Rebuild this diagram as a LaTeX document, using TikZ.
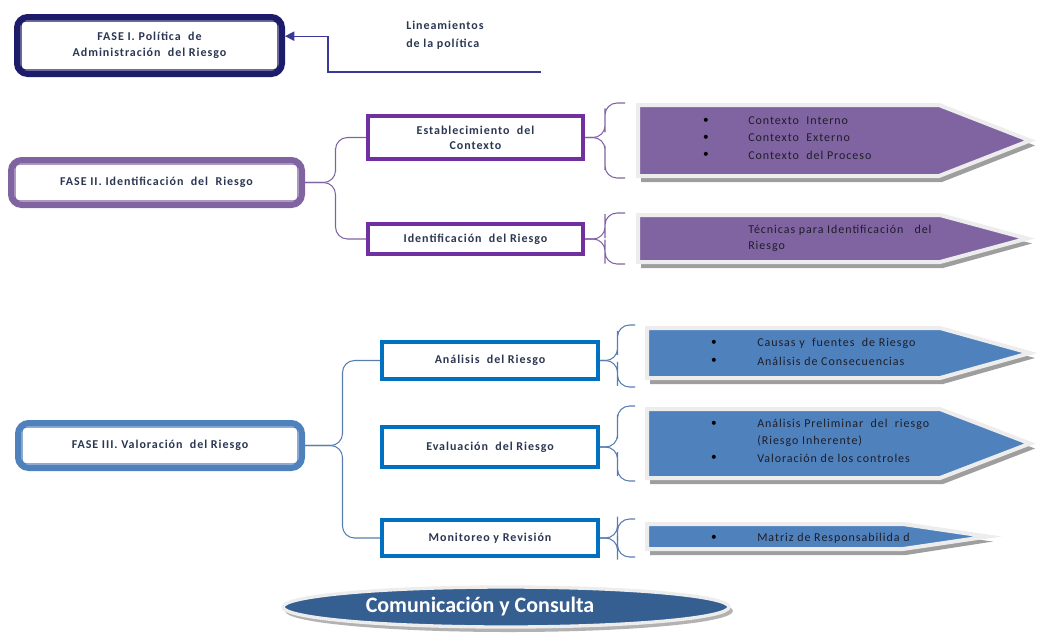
\documentclass[tikz,border=0pt]{standalone}
\usepackage{fontspec}
\setmainfont{Carlito}[LetterSpace=8]
\newfontfamily\plainfont{Carlito}
\usetikzlibrary{calc,arrows.meta,shapes.geometric}
\definecolor{navy}{HTML}{1C1C6B}
\definecolor{navyln}{HTML}{3A3A96}
\definecolor{purpA}{HTML}{8064A2}
\definecolor{purpB}{HTML}{7030A0}
\definecolor{blueA}{HTML}{4F81BD}
\definecolor{blueB}{HTML}{0070C0}
\definecolor{blueBr}{HTML}{5A7DB0}
\definecolor{ellFill}{HTML}{365F91}
\definecolor{txt}{HTML}{2B3652}
\definecolor{lsttxt}{HTML}{1E1E28}
\newcommand\mysig[6]{%
  \fill[black!38] (#2+3,#3+6) -- (#5+3,#3+6) -- (#6+5,{(#3+#4)/2+5}) -- (#5+3,#4+6) -- (#2+3,#4+6) -- cycle;
  \draw[draw=black!7, line width=3pt, fill=#1, line join=miter] (#2,#3) -- (#5,#3) -- (#6,{(#3+#4)/2}) -- (#5,#4) -- (#2,#4) -- cycle;
}
\tikzset{
  fase/.style={draw, line width=4.5pt, rounded corners=8pt, fill=white, inner sep=0pt, align=center,
    font=\fontsize{9}{12}\selectfont\bfseries, text=txt},
  faseinner/.style={line width=1.1pt, rounded corners=3pt},
  subbox/.style={draw, line width=3pt, fill=white, inner sep=0pt, align=center,
    minimum width=215*0.75pt, font=\fontsize{9}{11.3}\selectfont\bfseries, text=txt},
  lst/.style={anchor=west, inner sep=0pt, font=\fontsize{9}{10}\selectfont, text=lsttxt},
  bul/.style={inner sep=0pt, font=\plainfont\fontsize{8.5}{10}\selectfont, text=black},
  brP/.style={draw=purpA, line width=0.8pt, rounded corners=9pt},
  brB/.style={draw=blueBr, line width=0.8pt, rounded corners=9pt},
}
\begin{document}
\begin{tikzpicture}[x=0.75pt,y=-0.75pt]
\useasboundingbox (0,0) rectangle (1046,637);

% ---------- FASE I ----------
\node[fase, draw=navy, minimum width=265*0.75pt, minimum height=57*0.75pt] (f1) at (149.5,45.5)
  {FASE I. Política\ \ de\\Administración\ \ del Riesgo};
\draw[faseinner, navy] ([shift={(7,7)}]f1.north west) rectangle ([shift={(-7,-7)}]f1.south east);
\node[anchor=west, align=left, inner sep=0pt, font=\fontsize{9}{13.5}\selectfont\bfseries, text=txt] (lin) at (406,35)
  {Lineamientos\\de la política};
\coordinate (linend) at (541,72);
\draw[navyln, line width=1pt, -{Triangle[length=7pt,width=7pt]}] (linend) -- ++(-213,0) |- ([yshift=7pt]f1.east);

% ---------- FASE II ----------
\node[fase, draw=purpA, minimum width=291*0.75pt, minimum height=45*0.75pt] (f2) at (156.5,182.5)
  {FASE II. Identificación\ \ del\ \ Riesgo};
\draw[faseinner, purpA] ([shift={(7,7)}]f2.north west) rectangle ([shift={(-7,-7)}]f2.south east);
\node[subbox, draw=purpB, minimum height=43*0.75pt] (est) at (475.5,137.5) {Establecimiento\ \ del\\Contexto};
\node[subbox, draw=purpB, minimum height=30*0.75pt] (idr) at (475.5,239) {Identificación\ \ del Riesgo};
\draw[brP] (f2.east) -| ($(f2.east)!0.5!(est.west)$) |- (est.west);
\draw[brP] (f2.east) -| ($(f2.east)!0.5!(idr.west)$) |- (idr.west);

\mysig{purpA}{638}{105}{176}{939}{1030}
\mysig{purpA}{638}{215}{262}{940}{1027}
\coordinate (p1t) at (625,103);
\coordinate (p1b) at (625,178);
\coordinate (p2t) at (625,213);
\coordinate (p2b) at (625,264);
\draw[brP] (est.east) -| ($(est.east)!0.5!(p1t)$) |- (p1t);
\draw[brP] (est.east) -| ($(est.east)!0.5!(p1b)$) |- (p1b);
\draw[brP] (idr.east) -| ($(idr.east)!0.5!(p2t)$) |- (p2t);
\draw[brP] (idr.east) -| ($(idr.east)!0.5!(p2b)$) |- (p2b);
\node[bul] (b11) at (706,121) {\textbullet};
\node[bul] (b12) at (706,138) {\textbullet};
\node[bul] (b13) at (706,155) {\textbullet};
\node[lst] (t11) at (748,121) {Contexto\ \ Interno};
\node[lst] (t12) at (748,138) {Contexto\ \ Externo};
\node[lst] (t13) at (748,155) {Contexto\ \ del Proceso};
\node[lst] (t21) at (748,230) {Técnicas para Identificación\ \ \ del};
\node[lst] (t22) at (748,246) {Riesgo};

% ---------- FASE III ----------
\node[fase, draw=blueA, minimum width=284*0.75pt, minimum height=45*0.75pt] (f3) at (160,445.5)
  {FASE III. Valoración\ \ del Riesgo};
\draw[faseinner, blueA] ([shift={(7,7)}]f3.north west) rectangle ([shift={(-7,-7)}]f3.south east);
\node[subbox, draw=blueB, minimum width=216*0.75pt, minimum height=37*0.75pt] (ana) at (490,360.5) {Análisis\ \ del Riesgo};
\node[subbox, draw=blueB, minimum width=216*0.75pt, minimum height=40*0.75pt] (eva) at (490,447) {Evaluación\ \ del Riesgo};
\node[subbox, draw=blueB, minimum width=216*0.75pt, minimum height=36*0.75pt] (mon) at (490,538) {Monitoreo y Revisión};
\draw[brB] (f3.east) -| ($(f3.east)!0.5!(ana.west)$) |- (ana.west);
\draw[brB] (f3.east) -| ($(f3.east)!0.5!(mon.west)$) |- (mon.west);

\mysig{blueA}{647}{328}{378}{940}{1030}
\mysig{blueA}{647}{409}{478}{940}{1030}
\mysig{blueA}{647}{524}{549}{903}{988}
\coordinate (q1t) at (635,325);
\coordinate (q1b) at (635,387);
\coordinate (q2t) at (635,406);
\coordinate (q2b) at (635,481);
\coordinate (q3t) at (635,519);
\coordinate (q3b) at (635,557);
\draw[brB] (ana.east) -| ($(ana.east)!0.5!(q1t)$) |- (q1t);
\draw[brB] (ana.east) -| ($(ana.east)!0.5!(q1b)$) |- (q1b);
\draw[brB] (eva.east) -| ($(eva.east)!0.5!(q2t)$) |- (q2t);
\draw[brB] (eva.east) -| ($(eva.east)!0.5!(q2b)$) |- (q2b);
\draw[brB] (mon.east) -| ($(mon.east)!0.5!(q3t)$) |- (q3t);
\draw[brB] (mon.east) -| ($(mon.east)!0.5!(q3b)$) |- (q3b);
\node[bul] (c11) at (714,343) {\textbullet};
\node[bul] (c12) at (714,361) {\textbullet};
\node[lst] (u11) at (757,343) {Causas y\ \ fuentes\ \ de Riesgo};
\node[lst] (u12) at (757,361) {Análisis de Consecuencias};
\node[bul] (c21) at (714,424) {\textbullet};
\node[bul] (c22) at (714,458) {\textbullet};
\node[lst] (u21) at (757,424) {Análisis Preliminar\ \ del\ \ riesgo};
\node[lst] (u22) at (757,441) {(Riesgo Inherente)};
\node[lst] (u23) at (757,458) {Valoración de los controles};
\node[bul] (c31) at (714,538) {\textbullet};
\node[lst] (u31) at (757,538) {Matriz de Responsabilida d};

% ---------- Comunicación ----------
\fill[black!30] (509,611) ellipse [x radius=224, y radius=21];
\node[ellipse, fill=ellFill, draw=black!7, line width=2.5pt, minimum width=446*0.75pt, minimum height=40*0.75pt, inner sep=0pt] (com) at (506,607) {};
\node[inner sep=0pt, text=white, font=\plainfont\fontsize{16.5}{18}\selectfont\bfseries] (comt) at (480,606) {Comunicación y Consulta};
\end{tikzpicture}
\end{document}
